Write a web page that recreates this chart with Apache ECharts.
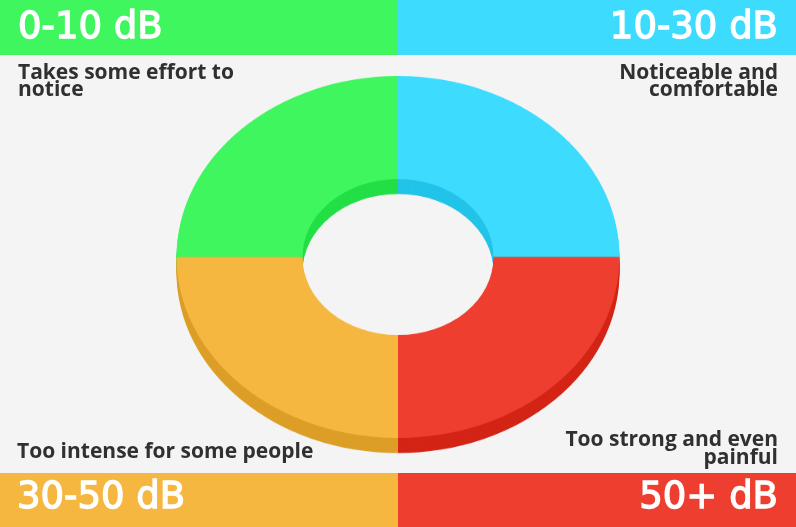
<!DOCTYPE html>
<html>
<head>
<meta charset="utf-8">
<script src="https://cdn.jsdelivr.net/npm/echarts@6/dist/echarts.min.js"></script>
<style>
html,body{margin:0;padding:0;background:#f4f4f4;}
#wrap{position:relative;width:796px;height:527px;overflow:hidden;}
#bg{position:absolute;left:0;top:0;width:796px;height:527px;}
#pie{position:absolute;left:0;top:0;width:796px;height:645px;transform:scaleY(0.817);transform-origin:0 0;}
</style>
</head>
<body>
<div id="wrap"><div id="bg"></div><div id="pie"></div></div>
<script>
// Data
var categories = ['0-10 dB', '10-30 dB', '50+ dB', '30-50 dB'];
var values = [25, 25, 25, 25];
var descriptions = [
  ['Takes some effort to', 'notice'],
  ['Noticeable and', 'comfortable'],
  ['Too strong and even', 'painful'],
  ['Too intense for some people']
];
var topColors = ['#3ff65e', '#3ddcff', '#ee3e2f', '#f5b740'];
var sideColors = ['#22df45', '#22c3e8', '#d32415', '#dc9e27'];

// Background, bands and texts
var bg = echarts.init(document.getElementById('bg'), null, {renderer: 'canvas'});
var graphics = [];
var bands = [
  {x: 0, y: 0, w: 398, h: 55},
  {x: 398, y: 0, w: 398, h: 55},
  {x: 398, y: 473, w: 398, h: 54},
  {x: 0, y: 473, w: 398, h: 54}
];
var headPos = [
  {x: 18, y: 28, align: 'left'},
  {x: 778, y: 28, align: 'right'},
  {x: 778, y: 498, align: 'right'},
  {x: 17, y: 498, align: 'left'}
];
var descPos = [
  {x: 18, y: [73, 90], align: 'left'},
  {x: 778, y: [73, 90], align: 'right'},
  {x: 778, y: [440, 458], align: 'right'},
  {x: 17, y: [452], align: 'left'}
];
categories.forEach(function (c, i) {
  var b = bands[i];
  graphics.push({type: 'rect', shape: {x: b.x, y: b.y, width: b.w, height: b.h}, style: {fill: topColors[i]}, silent: true});
  graphics.push({type: 'text', x: headPos[i].x, y: headPos[i].y, style: {
    text: c, fill: '#ffffff', stroke: '#ffffff', lineWidth: 1.3,
    font: '37px "DejaVu Sans"', align: headPos[i].align, verticalAlign: 'middle'}, silent: true});
  descriptions[i].forEach(function (line, j) {
    graphics.push({type: 'text', x: descPos[i].x, y: descPos[i].y[j], style: {
      text: line, fill: '#303030', font: 'bold 21px "Open Sans"', align: descPos[i].align, verticalAlign: 'middle'}, silent: true});
  });
});
bg.setOption({backgroundColor: '#f4f4f4', animation: false, graphic: graphics});

// Pie (drawn as an extruded ellipse)
var pie = echarts.init(document.getElementById('pie'), null, {renderer: 'canvas'});
var cx = 398, cy = 314.6, rOut = 221.5, rIn = 95.5;
var offsets = [18.4, 15, 12, 9, 6, 3];
var series = [];
function makeData(colors) {
  return categories.map(function (c, i) {
    return {name: c, value: values[i], itemStyle: {color: colors[i]}};
  });
}
offsets.forEach(function (o) {
  series.push({type: 'pie', startAngle: 180, clockwise: true, center: [cx, cy + o], radius: [rIn, rOut],
    label: {show: false}, labelLine: {show: false}, silent: true, animation: false,
    itemStyle: {borderWidth: 0}, data: makeData(sideColors)});
});
series.push({type: 'pie', startAngle: 180, clockwise: true, center: [cx, cy], radius: [rIn, rOut],
  label: {show: false}, labelLine: {show: false}, silent: true, animation: false,
  itemStyle: {borderWidth: 0}, data: makeData(topColors)});
pie.setOption({animation: false, series: series});
</script>
</body>
</html>
